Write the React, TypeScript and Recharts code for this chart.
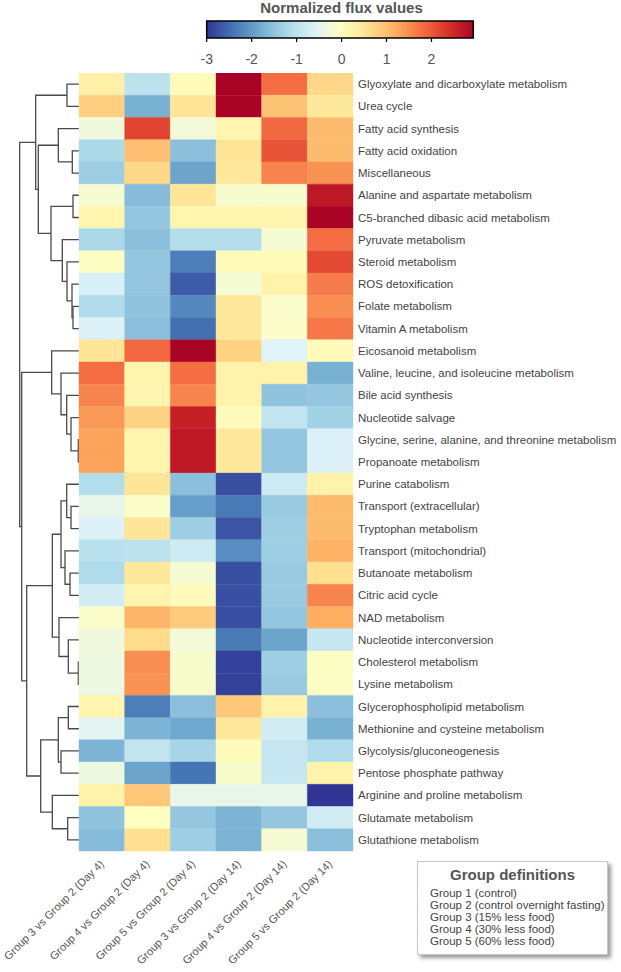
import React from "react";
import { ScatterChart, Scatter, XAxis, YAxis, ReferenceArea } from "recharts";

const FONT = '"Liberation Sans", Arial, Helvetica, sans-serif';

// row labels, top to bottom (clustered order)
const pathways = [
  "Glyoxylate and dicarboxylate metabolism",
  "Urea cycle",
  "Fatty acid synthesis",
  "Fatty acid oxidation",
  "Miscellaneous",
  "Alanine and aspartate metabolism",
  "C5-branched dibasic acid metabolism",
  "Pyruvate metabolism",
  "Steroid metabolism",
  "ROS detoxification",
  "Folate metabolism",
  "Vitamin A metabolism",
  "Eicosanoid metabolism",
  "Valine, leucine, and isoleucine metabolism",
  "Bile acid synthesis",
  "Nucleotide salvage",
  "Glycine, serine, alanine, and threonine metabolism",
  "Propanoate metabolism",
  "Purine catabolism",
  "Transport (extracellular)",
  "Tryptophan metabolism",
  "Transport (mitochondrial)",
  "Butanoate metabolism",
  "Citric acid cycle",
  "NAD metabolism",
  "Nucleotide interconversion",
  "Cholesterol metabolism",
  "Lysine metabolism",
  "Glycerophospholipid metabolism",
  "Methionine and cysteine metabolism",
  "Glycolysis/gluconeogenesis",
  "Pentose phosphate pathway",
  "Arginine and proline metabolism",
  "Glutamate metabolism",
  "Glutathione metabolism",
];

const comparisons = [
  "Group 3 vs Group 2 (Day 4)",
  "Group 4 vs Group 2 (Day 4)",
  "Group 5 vs Group 2 (Day 4)",
  "Group 3 vs Group 2 (Day 14)",
  "Group 4 vs Group 2 (Day 14)",
  "Group 5 vs Group 2 (Day 14)",
];

// normalized flux values, one array per comparison column
const g3Day4 = [0.3, 0.8, -0.3, -1.2, -1.35, -0.2, 0.2, -1.2, -0.05, -0.7, -1.15, -0.65, 0.5, 1.8, 1.6, 1.4, 1.3, 1.3, -1.1, -0.45, -0.65, -1.05, -1.15, -0.75, -0.1, -0.3, -0.35, -0.35, 0.2, -0.55, -1.7, -0.35, 0.25, -1.5, -1.6];
const g4Day4 = [-1.0, -1.75, 2.2, 1.0, 0.7, -1.6, -1.45, -1.55, -1.45, -1.45, -1.5, -1.55, 1.85, 0.2, 0.2, 0.75, 0.2, 0.2, 0.5, -0.1, 0.5, -1.0, 0.45, 0.2, 1.1, 0.65, 1.5, 1.45, -2.3, -1.7, -0.95, -1.9, 0.9, 0.0, 0.6];
const g5Day4 = [0.05, 0.5, -0.25, -1.55, -1.9, 0.5, 0.2, -1.1, -2.3, -2.65, -2.2, -2.45, 2.95, 1.8, 1.6, 2.6, 2.7, 2.7, -1.55, -1.95, -1.35, -0.8, -0.2, 0.05, 0.85, -0.25, -0.15, -0.15, -1.55, -1.85, -1.25, -2.4, -0.45, -1.45, -1.35];
const g3Day14 = [2.95, 2.95, 0.2, 0.5, 0.45, -0.15, 0.2, -1.1, 0.05, -0.2, 0.45, 0.45, 0.75, 0.25, 0.25, 0.05, 0.45, 0.45, -2.75, -2.35, -2.7, -2.15, -2.75, -2.75, -2.75, -2.35, -2.9, -2.9, 0.9, 0.45, 0.05, -0.15, -0.45, -1.7, -1.7];
const g4Day14 = [1.8, 0.95, 1.85, 2.05, 1.6, -0.15, 0.2, -0.2, 0.05, 0.25, -0.1, -0.1, -0.6, 0.25, -1.5, -0.95, -1.45, -1.45, -0.8, -1.4, -1.35, -1.35, -1.4, -1.4, -1.45, -1.9, -1.35, -1.4, 0.25, -0.75, -0.9, -0.9, -0.45, -1.45, -0.2];
const g5Day14 = [0.7, 0.45, 1.05, 1.05, 1.45, 2.7, 2.95, 1.8, 2.15, 1.65, 1.5, 1.7, 0.05, -1.75, -1.45, -1.3, -0.65, -0.65, 0.25, 1.05, 1.05, 1.15, 0.6, 1.6, 1.2, -0.9, -0.05, -0.05, -1.55, -1.75, -1.15, 0.25, -3.0, -0.75, -1.55];

const columns = [g3Day4, g4Day4, g5Day4, g3Day14, g4Day14, g5Day14];

// row dendrogram: [left node, right node, merge distance]; nodes 0-34 are rows, 35+ are merges in order
const merges: [number, number, number][] = [
  [0, 1, 1.2],
  [3, 4, 0.67],
  [2, 36, 2.07],
  [5, 6, 0.6],
  [10, 11, 0.6],
  [9, 39, 0.7],
  [8, 40, 1.2],
  [7, 41, 1.67],
  [38, 42, 2.8],
  [37, 43, 4.07],
  [35, 44, 4.33],
  [16, 17, 0.07],
  [15, 46, 0.8],
  [14, 47, 1.23],
  [13, 48, 1.8],
  [12, 49, 2.73],
  [19, 20, 0.8],
  [18, 51, 1.23],
  [22, 23, 0.9],
  [21, 53, 1.4],
  [52, 54, 1.8],
  [26, 27, 0.07],
  [25, 56, 1.07],
  [24, 57, 2.0],
  [55, 58, 2.67],
  [28, 29, 1.07],
  [30, 31, 1.8],
  [60, 61, 2.07],
  [33, 34, 1.13],
  [32, 63, 2.67],
  [62, 64, 3.83],
  [59, 65, 5.23],
  [50, 66, 5.73],
  [45, 67, 5.93],
];

const colorTicks = [-3, -2, -1, 0, 1, 2];
const COLOR_MIN = -3;
const COLOR_MAX = 3;
const BAR_MAX = 2.93;

const groupDefs = [
  "Group 1 (control)",
  "Group 2 (control overnight fasting)",
  "Group 3 (15% less food)",
  "Group 4 (30% less food)",
  "Group 5 (60% less food)",
];

// RdYlBu, reversed (blue = low, red = high)
const PALETTE = ["#313695", "#4575b4", "#74add1", "#abd9e9", "#e0f3f8", "#ffffbf", "#fee090", "#fdae61", "#f46d43", "#d73027", "#a50026"];

function hexToRgb(h: string) {
  const n = parseInt(h.slice(1), 16);
  return [(n >> 16) & 255, (n >> 8) & 255, n & 255];
}

function colorFor(v: number) {
  const t = Math.max(0, Math.min(1, (v - COLOR_MIN) / (COLOR_MAX - COLOR_MIN))) * (PALETTE.length - 1);
  const i = Math.min(Math.floor(t), PALETTE.length - 2);
  const f = t - i;
  const a = hexToRgb(PALETTE[i]);
  const b = hexToRgb(PALETTE[i + 1]);
  const c = a.map((x, k) => Math.round(x + (b[k] - x) * f));
  return `rgb(${c[0]},${c[1]},${c[2]})`;
}

const nRows = pathways.length;
const nCols = comparisons.length;

const cells = columns.flatMap((col, c) => col.map((v, r) => ({ x: c + 0.5, y: r + 0.5, c, r, v })));

// dendrogram elbows built from the merge list
const nodeY: number[] = pathways.map((_, i) => i + 0.5);
const nodeH: number[] = pathways.map(() => 0);
const links = merges.map(([a, b, h]) => {
  const pts = [
    { x: nodeH[a], y: nodeY[a] },
    { x: h, y: nodeY[a] },
    { x: h, y: nodeY[b] },
    { x: nodeH[b], y: nodeY[b] },
  ];
  nodeY.push((nodeY[a] + nodeY[b]) / 2);
  nodeH.push(h);
  return pts;
});

const noPoint = () => <g />;

const HM_LEFT = 79;
const HM_TOP = 73;
const HM_PLOT_H = 778;
const HM_PLOT_W = 274;
const LABEL_W = 268;
const XAXIS_H = 121;

function RowTick(props: any) {
  const { x, y, payload } = props;
  return (
    <text x={x} y={y} dy="0.35em" textAnchor="start" fontSize={11.5} fill="#444" fontFamily={FONT}>
      {pathways[Math.floor(payload.value)]}
    </text>
  );
}

function ColTick(props: any) {
  const { x, y, payload } = props;
  const ty = y + 11;
  return (
    <text
      x={x}
      y={ty}
      dy="0.35em"
      textAnchor="end"
      transform={`rotate(-45 ${x} ${ty})`}
      fontSize={11}
      fill="#555"
      fontFamily={FONT}
    >
      {comparisons[Math.floor(payload.value)]}
    </text>
  );
}

function Dendrogram() {
  return (
    <div style={{ position: "absolute", left: 0, top: HM_TOP }}>
      <ScatterChart width={HM_LEFT} height={HM_PLOT_H} margin={{ top: 0, right: 0, bottom: 0, left: 19 }}>
        <XAxis type="number" dataKey="x" domain={[0, 6]} reversed hide allowDataOverflow />
        <YAxis type="number" dataKey="y" domain={[0, nRows]} reversed hide />
        {links.map((pts, i) => (
          <Scatter
            key={i}
            data={pts}
            line={{ stroke: "#4a4a4a", strokeWidth: 1.3 }}
            shape={noPoint}
            isAnimationActive={false}
          />
        ))}
      </ScatterChart>
    </div>
  );
}

function Heatmap() {
  return (
    <div style={{ position: "absolute", left: 0, top: HM_TOP }}>
      <ScatterChart
        width={HM_LEFT + HM_PLOT_W + LABEL_W}
        height={HM_PLOT_H + XAXIS_H}
        margin={{ top: 0, right: 0, bottom: 0, left: HM_LEFT }}
      >
        <XAxis
          type="number"
          dataKey="x"
          domain={[0, nCols]}
          ticks={comparisons.map((_, i) => i + 0.5)}
          interval={0}
          height={XAXIS_H}
          axisLine={false}
          tickLine={false}
          tickSize={0}
          tickMargin={0}
          tick={<ColTick />}
        />
        <YAxis
          type="number"
          dataKey="y"
          orientation="right"
          domain={[0, nRows]}
          reversed
          ticks={pathways.map((_, i) => i + 0.5)}
          interval={0}
          width={LABEL_W}
          axisLine={false}
          tickLine={false}
          tickSize={0}
          tickMargin={5}
          tick={<RowTick />}
        />
        {cells.map((d) => (
          <ReferenceArea
            key={`${d.c}-${d.r}`}
            x1={d.c}
            x2={d.c + 1}
            y1={d.r}
            y2={d.r + 1}
            fill={colorFor(d.v)}
            fillOpacity={1}
            stroke={colorFor(d.v)}
            strokeWidth={0.4}
          />
        ))}
        <Scatter data={cells} shape={noPoint} isAnimationActive={false} />
      </ScatterChart>
    </div>
  );
}

function ColorBar() {
  const stops = Array.from({ length: 25 }, (_, i) => {
    const v = COLOR_MIN + ((BAR_MAX - COLOR_MIN) * i) / 24;
    return { offset: `${(i / 24) * 100}%`, color: colorFor(v) };
  });
  return (
    <div style={{ position: "absolute", left: 190, top: 0, width: 300, height: 70 }}>
      <div
        style={{
          position: "absolute",
          left: 0,
          top: 0,
          width: 303,
          textAlign: "center",
          fontFamily: FONT,
          fontWeight: "bold",
          fontSize: 15,
          lineHeight: "15px",
          color: "#555",
        }}
      >
        Normalized flux values
      </div>
      <ScatterChart width={300} height={70} margin={{ top: 21, right: 16.7, bottom: 0, left: 16.7 }}>
        <defs>
          <linearGradient id="fluxGrad" x1="0" y1="0" x2="1" y2="0">
            {stops.map((s) => (
              <stop key={s.offset} offset={s.offset} stopColor={s.color} />
            ))}
          </linearGradient>
        </defs>
        <XAxis
          type="number"
          dataKey="x"
          domain={[COLOR_MIN, BAR_MAX]}
          ticks={colorTicks}
          interval={0}
          height={32}
          axisLine={false}
          tickLine={{ stroke: "#000", strokeWidth: 1.2 }}
          tickSize={4}
          tickMargin={12}
          tick={{ fontSize: 14, fill: "#555", fontFamily: FONT }}
        />
        <YAxis type="number" dataKey="y" domain={[0, 1]} hide />
        <ReferenceArea
          x1={COLOR_MIN}
          x2={BAR_MAX}
          y1={0}
          y2={1}
          fill="url(#fluxGrad)"
          fillOpacity={1}
          stroke="#000"
          strokeWidth={1.5}
        />
        <Scatter data={[{ x: 0, y: 0.5 }]} shape={noPoint} isAnimationActive={false} />
      </ScatterChart>
    </div>
  );
}

function GroupBox() {
  return (
    <div
      style={{
        position: "absolute",
        left: 417,
        top: 861,
        width: 191,
        height: 94,
        background: "#fff",
        border: "1px solid #c8c8c8",
        boxShadow: "3px 3px 4px rgba(0,0,0,0.4)",
        fontFamily: FONT,
        color: "#444",
        boxSizing: "border-box",
      }}
    >
      <div style={{ textAlign: "center", fontWeight: "bold", fontSize: 15, lineHeight: "17px", marginTop: 4, color: "#555" }}>
        Group definitions
      </div>
      <div style={{ paddingLeft: 12, marginTop: 4, fontSize: 11.5, lineHeight: "12px" }}>
        {groupDefs.map((g) => (
          <div key={g}>{g}</div>
        ))}
      </div>
    </div>
  );
}

export default function App() {
  return (
    <div style={{ position: "absolute", left: 0, top: 0, width: 621, height: 972, background: "#fff", overflow: "hidden" }}>
      <ColorBar />
      <Dendrogram />
      <Heatmap />
      <GroupBox />
    </div>
  );
}
